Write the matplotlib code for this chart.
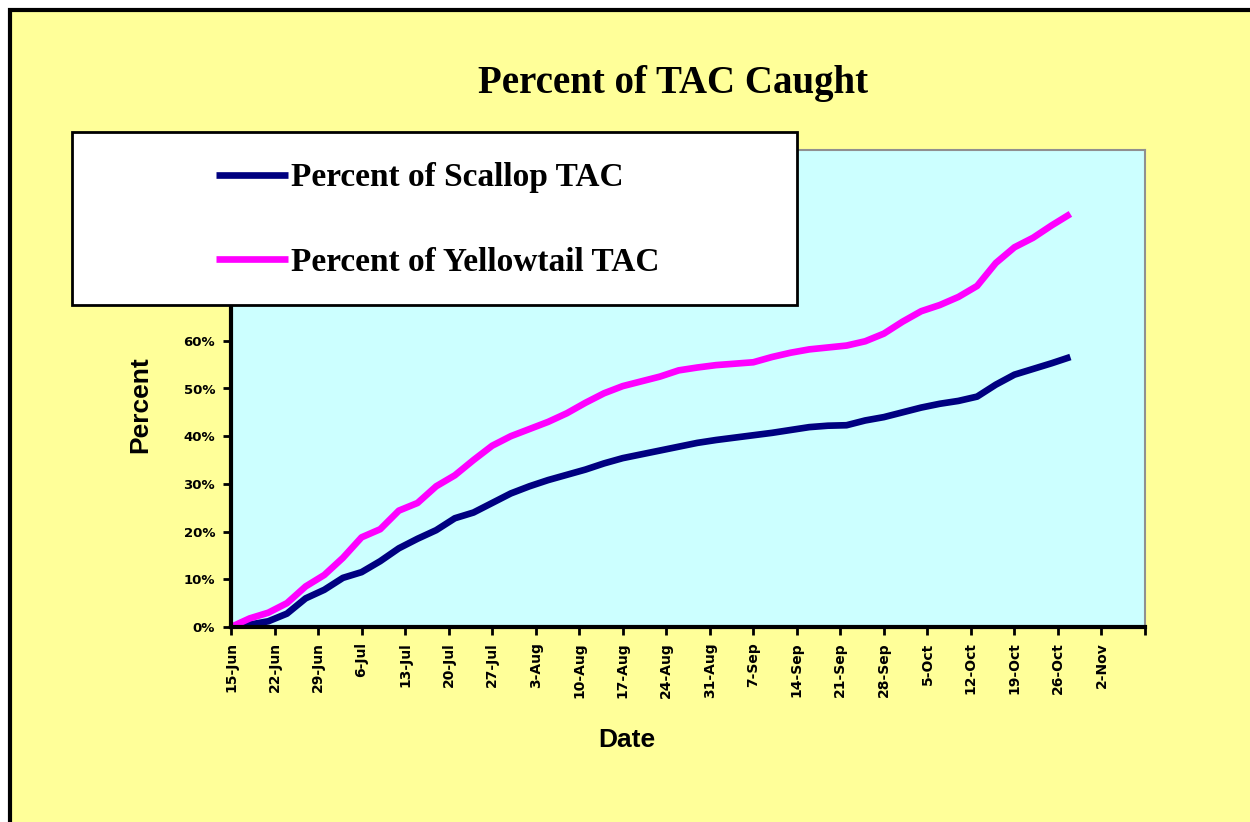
import numpy as np
import pandas as pd
import matplotlib
matplotlib.use('Agg')
from matplotlib import pyplot as plt
from matplotlib.patches import Rectangle

# sampled every 3 days from 15-Jun
dates = pd.date_range('2004-06-15', periods=46, freq='3D')

scallop = [0.0, 0.5, 1.2, 2.8, 6.0, 7.8, 10.3, 11.5, 13.8, 16.5,
           18.5, 20.3, 22.8, 24.0, 26.0, 28.0, 29.5, 30.8, 31.9, 33.0,
           34.3, 35.4, 36.2, 37.0, 37.8, 38.6, 39.2, 39.7, 40.2, 40.7,
           41.3, 41.9, 42.2, 42.3, 43.3, 44.0, 45.0, 46.0, 46.8, 47.4,
           48.3, 50.8, 52.9, 54.1, 55.3, 56.6]

yellowtail = [0.0, 1.8, 3.0, 5.0, 8.5, 10.9, 14.5, 18.8, 20.5, 24.4,
              26.0, 29.5, 31.8, 35.0, 38.0, 40.0, 41.5, 43.0, 44.8, 47.0,
              49.0, 50.5, 51.5, 52.5, 53.8, 54.4, 54.9, 55.2, 55.5, 56.6,
              57.5, 58.2, 58.6, 59.0, 59.9, 61.5, 64.0, 66.2, 67.5, 69.2,
              71.5, 76.3, 79.6, 81.6, 84.2, 86.6]

tick_labels = ['15-Jun', '22-Jun', '29-Jun', '6-Jul', '13-Jul', '20-Jul', '27-Jul',
               '3-Aug', '10-Aug', '17-Aug', '24-Aug', '31-Aug', '7-Sep', '14-Sep',
               '21-Sep', '28-Sep', '5-Oct', '12-Oct', '19-Oct', '26-Oct', '2-Nov', '']
y_ticks = [0, 10, 20, 30, 40, 50, 60, 70, 80, 90, 100]

fig = plt.figure(figsize=(12.5, 8.22), dpi=100)
fig.patch.set_facecolor('white')

# yellow chart area with black border (right / bottom edges run off the image)
fig.add_artist(Rectangle((10 / 1250, -0.1), 1.1, 1.1 - 10 / 822, transform=fig.transFigure,
                         facecolor='#FFFF99', edgecolor='black', lw=3, zorder=-1))

ax = fig.add_axes([231 / 1250, 1 - 627 / 822, (1145 - 231) / 1250, (627 - 150) / 822])
ax.set_facecolor('#CCFFFF')

ax.plot(dates, scallop, color='#000080', lw=4.8, solid_capstyle='butt', label='Percent of Scallop TAC')
ax.plot(dates, yellowtail, color='#FF00FF', lw=4.8, solid_capstyle='butt', label='Percent of Yellowtail TAC')

xticks = pd.date_range('2004-06-15', periods=len(tick_labels), freq='7D')
ax.set_xlim(xticks[0], xticks[-1])
ax.set_xticks(xticks)
ax.set_xticklabels(tick_labels, rotation=90, fontsize=10, fontweight='bold', family='DejaVu Sans')
ax.set_ylim(0, 100)
ax.set_yticks(y_ticks)
ax.set_yticklabels([f'{v}%' for v in y_ticks], fontsize=9.5, fontweight='bold', family='DejaVu Sans')
ax.tick_params(direction='out', length=6, width=2, color='black', pad=5)
ax.tick_params(axis='y', pad=5.5)

for side in ['left', 'bottom']:
    ax.spines[side].set_color('black')
    ax.spines[side].set_linewidth(3)
for side in ['top', 'right']:
    ax.spines[side].set_color('#909090')
    ax.spines[side].set_linewidth(1.5)

# legend box
fig.add_artist(Rectangle((72 / 1250, 1 - 305 / 822), (797 - 72) / 1250, (305 - 132) / 822,
                         transform=fig.transFigure, facecolor='white', edgecolor='black', lw=2, zorder=4))
handles, labels = ax.get_legend_handles_labels()
leg = fig.legend(handles, labels, loc='center left', bbox_to_anchor=(186 / 1250, 1 - 220 / 822),
                 frameon=False, handlelength=2.15, handletextpad=0.1, labelspacing=1.6,
                 prop={'family': 'Liberation Serif', 'weight': 'bold', 'size': 24})
leg.set_zorder(6)

fig.text(673 / 1250, 1 - 83 / 822, 'Percent of TAC Caught', ha='center', va='center',
         family='Liberation Serif', fontweight='bold', fontsize=28)
fig.text(140 / 1250, 1 - 405 / 822, 'Percent', ha='center', va='center', rotation=90,
         family='Liberation Sans', fontweight='bold', fontsize=19)
fig.text(627 / 1250, 1 - 740 / 822, 'Date', ha='center', va='center',
         family='Liberation Sans', fontweight='bold', fontsize=19)

fig.savefig('out.png', dpi=100, facecolor=fig.get_facecolor())
